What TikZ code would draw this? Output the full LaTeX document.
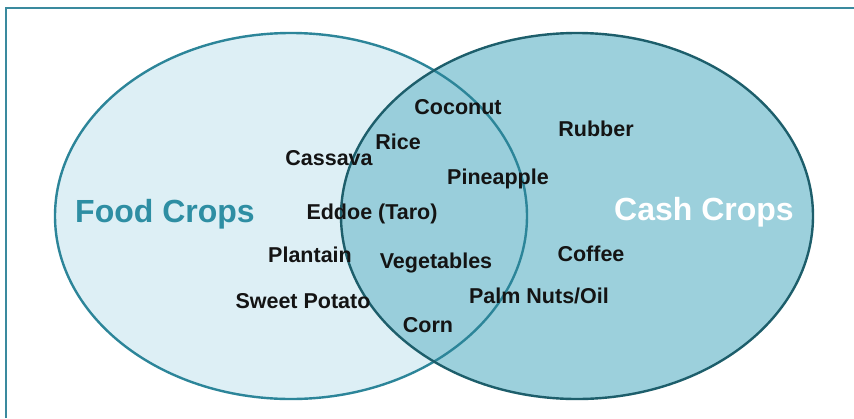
\documentclass[tikz,border=0pt]{standalone}
\usepackage{fontspec}
\setmainfont{Liberation Sans}
\definecolor{frameC}{HTML}{3A8A9E}
\definecolor{foodFill}{HTML}{DDEFF5}
\definecolor{foodLine}{HTML}{2C8599}
\definecolor{cashFill}{HTML}{92CBD9}
\definecolor{cashLine}{HTML}{1D5E6B}
\definecolor{foodText}{HTML}{2E8EA3}
\tikzset{
  item/.style={font=\fontsize{21.5}{24}\selectfont\bfseries, text=black!92, inner sep=0pt},
  title/.style={font=\fontsize{32}{35}\selectfont\bfseries, inner sep=0pt},
}
\begin{document}
\begin{tikzpicture}[x=1pt,y=-1pt]
\useasboundingbox (0,0) rectangle (854,418);
\fill[white] (0,0) rectangle (854,418);
\draw[frameC, line width=2pt] (5.5,418) -- (5.5,7.5) -- (854,7.5);
% ellipses
\fill[foodFill] (291,216) ellipse [x radius=236, y radius=183];
\fill[cashFill, fill opacity=0.9] (577,216) ellipse [x radius=236, y radius=183];
\draw[foodLine, line width=2.4pt] (291,216) ellipse [x radius=236, y radius=183];
\draw[cashLine, line width=2.4pt] (577,216) ellipse [x radius=236, y radius=183];
% titles
\node[title, text=foodText] (food) at (165,214) {Food Crops};
\node[title, text=white] (cash) at (704,212) {Cash Crops};
% items
\node[item] (coconut) at (458,107) {Coconut};
\node[item] (rice) at (398,142) {Rice};
\node[item] (cassava) at (329,158) {Cassava};
\node[item] (rubber) at (596,129) {Rubber};
\node[item] (pineapple) at (498,179) {Pineapple};
\node[item] (eddoe) at (372,214) {Eddoe (Taro)};
\node[item] (plantain) at (310,255) {Plantain};
\node[item] (vegetables) at (436,263) {Vegetables};
\node[item] (coffee) at (591,254) {Coffee};
\node[item] (palm) at (539,296) {Palm Nuts/Oil};
\node[item] (sweet) at (303,301) {Sweet Potato};
\node[item] (corn) at (428,325) {Corn};
\end{tikzpicture}
\end{document}
